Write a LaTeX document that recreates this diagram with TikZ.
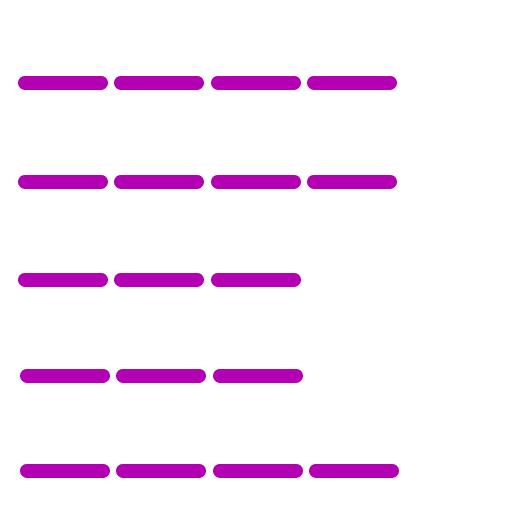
\documentclass[tikz,border=0pt]{standalone}
\definecolor{barmag}{RGB}{178,0,178}
\tikzset{bar/.style={draw=barmag, line width=14pt, line cap=round}}
\begin{document}
\begin{tikzpicture}[x=1pt,y=-1pt]
\useasboundingbox (0,0) rectangle (512,512);
% row 1
\foreach \a/\b in {18/108,114/204,211/301,307/397}
  \draw[bar] (\a+7,82.5) -- (\b-7,82.5);
% row 2
\foreach \a/\b in {18/108,114/204,211/301,307/397}
  \draw[bar] (\a+7,181.5) -- (\b-7,181.5);
% row 3
\foreach \a/\b in {18/108,114/204,211/301}
  \draw[bar] (\a+7,279.5) -- (\b-7,279.5);
% row 4
\foreach \a/\b in {20/110,116/206,213/303}
  \draw[bar] (\a+7,375.5) -- (\b-7,375.5);
% row 5
\foreach \a/\b in {20/110,116/206,213/303,309/399}
  \draw[bar] (\a+7,470.5) -- (\b-7,470.5);
\end{tikzpicture}
\end{document}
